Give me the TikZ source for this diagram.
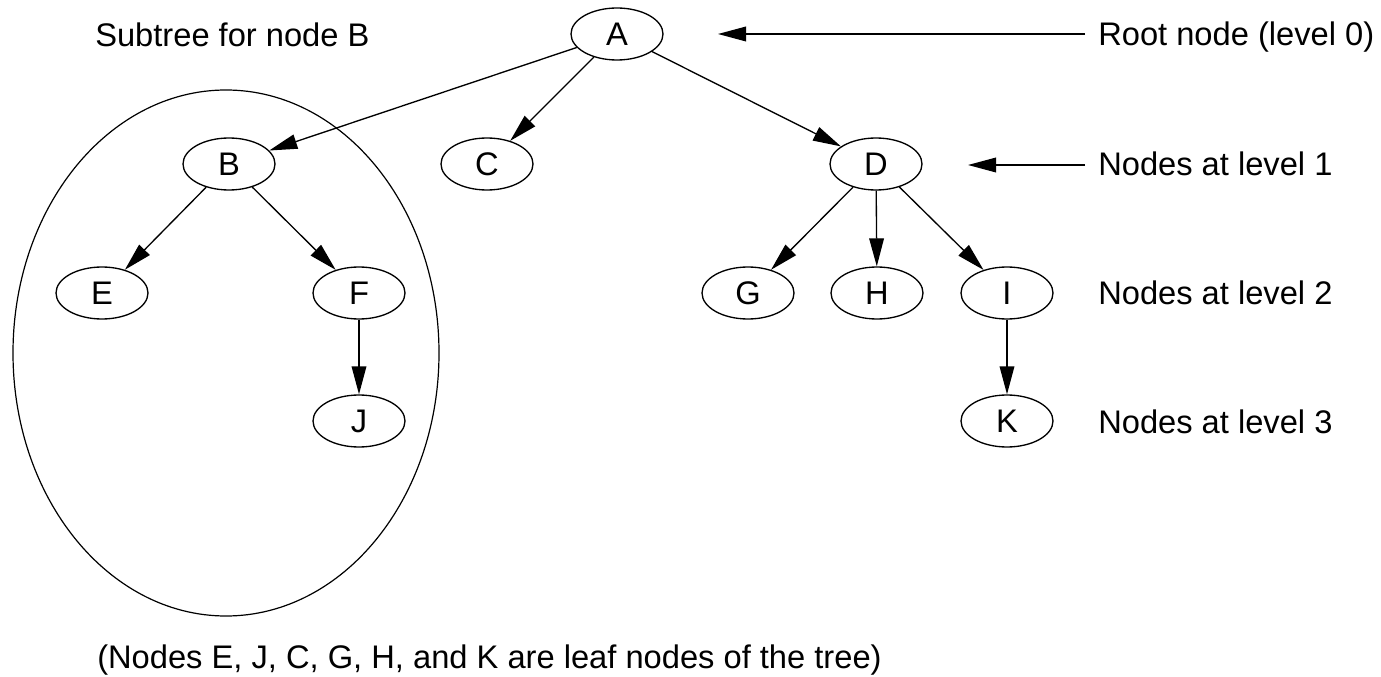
\documentclass[tikz,border=0pt]{standalone}
\usepackage{fontspec}
\setmainfont{Liberation Sans}
\usetikzlibrary{arrows.meta,shapes.geometric}
\begin{document}
\begin{tikzpicture}[x=0.75pt,y=-0.75pt,
  tnode/.style={ellipse,draw,line width=1pt,minimum width=69pt,minimum height=39pt,inner sep=0pt,text height=17.5pt,text depth=0pt,font=\fontsize{24.5}{29}\selectfont},
  arr/.style={line width=1pt,-{Triangle[length=21pt,width=11pt]}},
  lab/.style={anchor=base west,inner sep=0pt,font=\fontsize{24.5}{29}\selectfont}]
\useasboundingbox (0,0) rectangle (1381,677);
% subtree ellipse
\draw[line width=0.9pt] (226,353) ellipse [x radius=213, y radius=263];
% tree nodes
\node[tnode] (A) at (617,34) {A};
\node[tnode] (B) at (229,164) {B};
\node[tnode] (C) at (487,164) {C};
\node[tnode] (D) at (876,164) {D};
\node[tnode] (E) at (102,293) {E};
\node[tnode] (F) at (359,293) {F};
\node[tnode] (G) at (748,293) {G};
\node[tnode] (H) at (877,293) {H};
\node[tnode] (I) at (1007,293) {I};
\node[tnode] (J) at (359,421) {J};
\node[tnode] (K) at (1007,421) {K};
% edges
\draw[arr] (A) -- (B);
\draw[arr] (A) -- (C);
\draw[arr] (A) -- (D);
\draw[arr] (B) -- (E);
\draw[arr] (B) -- (F);
\draw[arr] (F) -- (J);
\draw[arr] (D) -- (G);
\draw[arr] (D) -- (H);
\draw[arr] (D) -- (I);
\draw[arr] (I) -- (K);
% labels
\node[lab] (sub) at (95,47) {Subtree for node B};
\node[lab] (l0) at (1098,46) {Root node (level 0)};
\node[lab] (l1) at (1098,176) {Nodes at level 1};
\node[lab] (l2) at (1098,305) {Nodes at level 2};
\node[lab] (l3) at (1098,433) {Nodes at level 3};
\node[lab] (leaf) at (97,668) {(Nodes E, J, C, G, H, and K are leaf nodes of the tree)};
% level arrows
\coordinate (r0s) at (1085,34);
\coordinate (r0e) at (718,34);
\coordinate (r1s) at (1085,165);
\coordinate (r1e) at (968,165);
\draw[arr] (r0s) -- (r0e);
\draw[arr] (r1s) -- (r1e);
\end{tikzpicture}
\end{document}
